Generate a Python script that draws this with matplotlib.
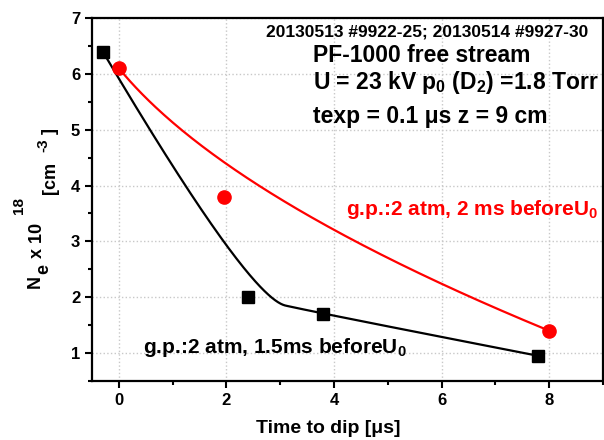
import numpy as np
import matplotlib.pyplot as plt
from matplotlib.ticker import MultipleLocator

plt.rcParams['font.family'] = ['Liberation Sans', 'DejaVu Sans']
plt.rcParams['font.weight'] = 'bold'
plt.rcParams['mathtext.fontset'] = 'custom'
plt.rcParams['mathtext.rm'] = 'Liberation Sans:bold'
plt.rcParams['mathtext.it'] = 'Liberation Sans:bold'
plt.rcParams['mathtext.bf'] = 'Liberation Sans:bold'

# data
t_black = [-0.3, 2.4, 3.8, 7.8]
ne_black = [6.4, 2.0, 1.7, 0.95]
t_red = [0.0, 1.95, 8.0]
ne_red = [6.1, 3.8, 1.4]

W, H = 604, 440


def bspline2(xs, ys, n=200):
    # clamped quadratic B-spline using the points as control polygon
    p = np.column_stack([xs, ys]).astype(float)
    if len(p) < 3:
        return p[:, 0], p[:, 1]
    ends = [p[0]] + [(p[i] + p[i + 1]) / 2 for i in range(1, len(p) - 2)] + [p[-1]]
    out = []
    t = np.linspace(0, 1, n)[:, None]
    for i in range(len(ends) - 1):
        a, b, c = ends[i], p[i + 1], ends[i + 1]
        out.append((1 - t) ** 2 * a + 2 * t * (1 - t) * b + t ** 2 * c)
    out = np.vstack(out)
    return out[:, 0], out[:, 1]


fig = plt.figure(figsize=(W / 100, H / 100), dpi=100)
ax = fig.add_axes([92 / W, 1 - 381 / H, 511 / W, 363 / H])

bx, by = bspline2(t_black, ne_black)
rx, ry = bspline2(t_red, ne_red)
ax.plot(bx, by, color='black', lw=1.6, zorder=3)
ax.plot(rx, ry, color='red', lw=1.6, zorder=3)
ax.plot(t_black, ne_black, 's', color='black', ms=8.5, zorder=4)
ax.plot(t_red, ne_red, 'o', color='red', ms=9.5, zorder=4)

ax.set_xlim(-0.5, 9)
ax.set_ylim(0.5, 7)
ax.xaxis.set_major_locator(MultipleLocator(2))
ax.xaxis.set_minor_locator(MultipleLocator(1))
ax.yaxis.set_major_locator(MultipleLocator(1))
ax.yaxis.set_minor_locator(MultipleLocator(0.5))
ax.grid(True, which='major', color='#c8c8c8', ls=':', lw=1)
ax.tick_params(which='both', direction='out', width=1.5, labelsize=12)
ax.tick_params(which='major', length=5)
ax.tick_params(which='minor', length=3)
for s in ax.spines.values():
    s.set_linewidth(1.6)

ax.set_xlabel('Time to dip [μs]', fontsize=14, fontweight='bold')
ax.xaxis.set_label_coords((328 - 92) / 511, -(428 - 381) / 363)
ax.xaxis.label.set_va('center')


# y label built from pieces (Origin-style full size sub/superscripts)
def ypiece(s, x, y, size):
    fig.text(x / W, 1 - y / H, s, rotation=90, rotation_mode='anchor',
             ha='left', va='baseline', fontsize=size, fontweight='bold')


ypiece('N', 40, 288, 13)
ypiece('e', 48, 274, 13)
ypiece('x 10', 42, 258, 13)
ypiece('18', 23, 214, 11)
ypiece('[cm', 55, 194, 13)
ypiece('-3', 47, 152, 11)
ypiece(']', 55, 134, 13)

ax.text(0.971, 0.950, '20130513 #9922-25; 20130514 #9927-30', transform=ax.transAxes,
        ha='right', va='baseline', fontsize=12.5, fontweight='bold')
ax.text(0.432, 0.879, 'PF-1000 free stream', transform=ax.transAxes,
        ha='left', va='baseline', fontsize=16.5, fontweight='bold')
ax.text(0.432, 0.804, r'U = 23 kV p$_0$ (D$_2$) =1.8 Torr', transform=ax.transAxes,
        ha='left', va='baseline', fontsize=16.5, fontweight='bold')
ax.text(0.432, 0.711, 'texp = 0.1 μs z = 9 cm', transform=ax.transAxes,
        ha='left', va='baseline', fontsize=16.5, fontweight='bold')
ax.text(0.497, 0.457, r'g.p.:2 atm, 2 ms beforeU$_0$', transform=ax.transAxes,
        ha='left', va='baseline', fontsize=15, fontweight='bold', color='red')
ax.text(0.100, 0.077, r'g.p.:2 atm, 1.5ms beforeU$_0$', transform=ax.transAxes,
        ha='left', va='baseline', fontsize=15, fontweight='bold', color='black')

plt.savefig('out.png', dpi=100)
plt.close()
